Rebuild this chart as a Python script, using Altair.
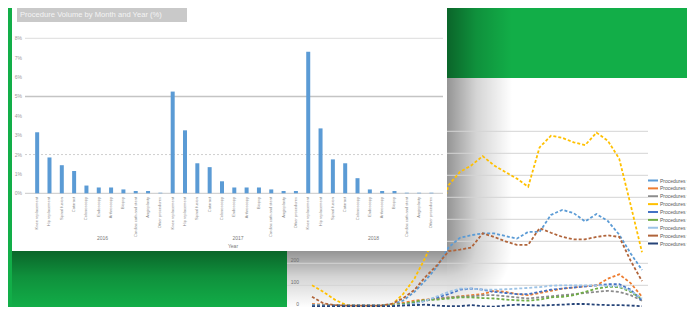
import altair as alt
import pandas as pd

# ---------------- data ----------------
TITLE = "Procedure Volume by Month and Year (%)"
BAR_GROUPS = ["2016", "2017", "2018"]
BAR_AXIS_TITLE = "Year"
BAR_CATEGORIES = ["Knee replacement", "Hip replacement", "Spinal fusion", "Cataract",
                  "Colonoscopy", "Endoscopy", "Arthroscopy", "Biopsy",
                  "Cardiac cath and stent", "Angioplasty", "Other procedures"]
BAR_VALUES = [3.15, 1.85, 1.45, 1.15, 0.40, 0.30, 0.30, 0.20, 0.12, 0.12, 0.03,
              5.25, 3.25, 1.55, 1.35, 0.62, 0.30, 0.30, 0.30, 0.20, 0.12, 0.12,
              7.30, 3.35, 1.75, 1.55, 0.78, 0.20, 0.12, 0.12, 0.03, 0.03, 0.03]
BAR_TICKS = [0, 1, 2, 3, 4, 5, 6, 7, 8]
BAR_TICK_LABELS = ["0%", "1%", "2%", "3%", "4%", "5%", "6%", "7%", "8%"]

LINE_SERIES = ["Procedures via Inpatient", "Procedures via Outpatient", "Procedures via Clinic",
               "Procedures via Day Surgery", "Procedures via Emergency", "Procedures via Referral",
               "Procedures via Transfer", "Procedures via Other Sites", "Procedures via Unknown"]
LINE_COLORS = ["#5B9BD5", "#ED7D31", "#8C8C8C", "#FFC000", "#4472C4", "#70AD47",
               "#9DC3E6", "#B0643A", "#264478"]
blue = [10, 10, 10, 10, 10, 10, 10, 12, 30, 70, 124, 185, 272, 316, 328, 336, 336, 324, 312, 343,
        343, 420, 443, 428, 390, 424, 392, 330, 245, 170]
orange = [15, 12, 10, 8, 8, 8, 8, 10, 20, 30, 35, 40, 45, 50, 55, 60, 75, 70, 60, 55,
          65, 75, 85, 90, 95, 100, 130, 150, 110, 48]
gray = [12, 10, 10, 10, 10, 10, 10, 12, 15, 20, 30, 40, 45, 48, 50, 55, 55, 50, 45, 40,
        45, 50, 55, 60, 65, 70, 75, 70, 55, 30]
yellow = [100, 70, 35, 10, 5, 5, 5, 10, 60, 130, 230, 360, 555, 615, 645, 687, 645, 615, 585, 548,
          727, 780, 770, 750, 737, 794, 757, 675, 466, 250]
darkblue = [10, 8, 8, 8, 8, 8, 8, 8, 10, 20, 30, 45, 60, 80, 85, 80, 70, 65, 60, 60,
            70, 80, 85, 90, 95, 100, 105, 105, 80, 30]
green = [8, 8, 8, 8, 8, 8, 8, 10, 15, 25, 33, 35, 40, 45, 45, 42, 40, 35, 32, 30,
         35, 45, 48, 55, 70, 85, 93, 92, 70, 38]
lightblue = [8, 8, 8, 8, 8, 8, 8, 8, 10, 15, 30, 50, 70, 85, 85, 80, 80, 82, 85, 88,
             92, 98, 100, 100, 100, 100, 97, 95, 75, 40]
brown = [48, 18, 10, 8, 8, 8, 8, 15, 41, 79, 140, 192, 255, 262, 272, 336, 320, 300, 284, 284,
         360, 339, 320, 309, 309, 320, 327, 320, 212, 119]
navy = [5, 5, 5, 5, 5, 5, 5, 5, 8, 10, 12, 8, 5, 5, 10, 5, 3, 8, 12, 10,
        8, 10, 12, 15, 15, 12, 10, 10, 8, 5]
LINE_TICKS = [0, 100, 200, 300, 400, 500, 600, 700, 800, 900, 1000]
LINE_GRID = [100, 200, 300, 400, 500, 600, 700, 800]

# ---------------- tables ----------------
series_vals = [blue, orange, gray, yellow, darkblue, green, lightblue, brown, navy]
line_df = pd.DataFrame([
    {"series": s, "i": i, "v": v}
    for s, vals in zip(LINE_SERIES, series_vals) for i, v in enumerate(vals)
])
legend_df = pd.DataFrame({"series": LINE_SERIES})
n_cat = len(BAR_CATEGORIES)
bar_df = pd.DataFrame([
    {"idx": g * n_cat + c, "value": BAR_VALUES[g * n_cat + c], "label": BAR_CATEGORIES[c]}
    for g in range(len(BAR_GROUPS)) for c in range(n_cat)
])
group_df = pd.DataFrame({"idx": [g * n_cat + 5.3 for g in range(len(BAR_GROUPS))],
                         "label": BAR_GROUPS})
bar_tick_df = pd.DataFrame({"v": BAR_TICKS, "t": BAR_TICK_LABELS})
line_tick_df = pd.DataFrame({"v": LINE_TICKS, "t": [str(t) for t in LINE_TICKS]})
line_grid_df = pd.DataFrame({"v": LINE_GRID})
ONE = alt.Data(values=[{"k": 0}])

FONT = "Liberation Sans"

# ---------------- scales ----------------
bx = alt.Scale(domain=[-0.5, 32.5], range=[18, 434.6], nice=False, zero=False)
by = alt.Scale(domain=[0, 8], range=[185.3, 30.3], nice=False)
lx = alt.Scale(domain=[0, 29], range=[304, 634], nice=False, zero=False)
ly = alt.Scale(domain=[0, 1000], range=[299.3, 79.3], nice=False)
legy = alt.Scale(type="point", domain=LINE_SERIES, range=[172.5, 235.5], padding=0)
color_scale = alt.Scale(domain=LINE_SERIES, range=LINE_COLORS)


def box(x, x2, y, y2, color, **kw):
    return alt.Chart(ONE).mark_rect(color=color, **kw).encode(
        x=alt.value(x), x2=alt.value(x2), y=alt.value(y), y2=alt.value(y2))


def grad(direction, a0, a1):
    stops = [alt.GradientStop(color=f"rgba(0,0,0,{a0})", offset=0),
             alt.GradientStop(color=f"rgba(0,0,0,{(a0 + a1) / 2 * 0.8})", offset=0.45),
             alt.GradientStop(color=f"rgba(0,0,0,{a1})", offset=1)]
    if direction == "h":
        return alt.LinearGradient(gradient="linear", stops=stops, x1=0, x2=1, y1=0, y2=0)
    return alt.LinearGradient(gradient="linear", stops=stops, x1=0, x2=0, y1=0, y2=1)


radial = alt.RadialGradient(
    gradient="radial",
    stops=[alt.GradientStop(color="rgba(0,0,0,0.42)", offset=0),
           alt.GradientStop(color="rgba(0,0,0,0.17)", offset=0.45),
           alt.GradientStop(color="rgba(0,0,0,0)", offset=1)],
    x1=0, y1=0, r1=0, x2=0, y2=0, r2=1)

# ---------------- line chart (background panel) ----------------
line_panel = box(279, 700, 70, 310, "#ffffff")
shadow_right = box(439, 504, -2, 243, grad("h", 0.42, 0.0))
shadow_bottom = box(4, 439, 243, 300, grad("v", 0.42, 0.0))
shadow_corner = box(439, 504, 243, 300, radial)

line_grid = alt.Chart(line_grid_df).mark_rule(color="#d4d4d4", strokeWidth=1).encode(
    y=alt.Y("v:Q", scale=ly, axis=None), x=alt.value(279), x2=alt.value(640))
line_ylabels = alt.Chart(line_tick_df).mark_text(
    fontSize=5, color="#6f6f6f", align="right", baseline="bottom", dy=-0.5, font=FONT).encode(
    y=alt.Y("v:Q", scale=ly, axis=None), x=alt.value(291), text="t:N")
lines = alt.Chart(line_df).mark_line(strokeDash=[3, 2], strokeWidth=1.8).encode(
    x=alt.X("i:Q", scale=lx, axis=None),
    y=alt.Y("v:Q", scale=ly, axis=None),
    color=alt.Color("series:N", scale=color_scale, sort=LINE_SERIES, legend=None),
)
line_layer = alt.layer(line_panel, shadow_right, shadow_bottom, shadow_corner,
                       line_grid, line_ylabels, lines)

# legend drawn from the series list
leg_sym = alt.Chart(legend_df).mark_rule(strokeWidth=2).encode(
    y=alt.Y("series:N", scale=legy, axis=None),
    x=alt.value(640), x2=alt.value(650),
    color=alt.Color("series:N", scale=color_scale, legend=None))
leg_txt = alt.Chart(legend_df).mark_text(
    fontSize=5, color="#595959", align="left", baseline="middle", font=FONT).encode(
    y=alt.Y("series:N", scale=legy, axis=None), x=alt.value(652), text="series:N")
legend_layer = alt.layer(leg_sym, leg_txt)

# ---------------- bar chart (front panel) ----------------
bar_panel = box(4, 439, -4, 243, "#ffffff")
title_box = box(9, 179, -1, 14, "#c9c9c9")
title_text = alt.Chart(ONE).mark_text(
    text=TITLE, fontSize=7.6, color="#f4f4f4", align="left", baseline="middle", font=FONT).encode(
    x=alt.value(12), y=alt.value(6.5))
grid8 = alt.Chart(pd.DataFrame({"v": [8]})).mark_rule(color="#dcdcdc", strokeWidth=1).encode(
    y=alt.Y("v:Q", scale=by, axis=None), x=alt.value(17), x2=alt.value(435))
grid5 = alt.Chart(pd.DataFrame({"v": [5]})).mark_rule(color="#c4c4c4", strokeWidth=1.5).encode(
    y=alt.Y("v:Q", scale=by, axis=None), x=alt.value(17), x2=alt.value(435))
grid2 = alt.Chart(pd.DataFrame({"v": [2]})).mark_rule(color="#cfcfcf", strokeWidth=1,
                                                     strokeDash=[2, 2]).encode(
    y=alt.Y("v:Q", scale=by, axis=None), x=alt.value(17), x2=alt.value(435))
base = alt.Chart(pd.DataFrame({"v": [0]})).mark_rule(color="#c8c8c8", strokeWidth=1).encode(
    y=alt.Y("v:Q", scale=by, axis=None), x=alt.value(17), x2=alt.value(435))
bar_ylabels = alt.Chart(bar_tick_df).mark_text(
    fontSize=5, color="#9a9a9a", align="right", baseline="middle", font=FONT).encode(
    y=alt.Y("v:Q", scale=by, axis=None), x=alt.value(14), text="t:N")
bars = alt.Chart(bar_df).mark_bar(width=4, color="#5B9BD5").encode(
    x=alt.X("idx:Q", scale=bx, axis=None),
    y=alt.Y("value:Q", scale=by, axis=None))
cat_labels = alt.Chart(bar_df).mark_text(
    angle=270, align="right", baseline="middle", fontSize=4, color="#8a8a8a", font=FONT).encode(
    x=alt.X("idx:Q", scale=bx, axis=None), y=alt.value(189), text="label:N")
group_labels = alt.Chart(group_df).mark_text(
    fontSize=5, color="#7a7a7a", baseline="middle", font=FONT).encode(
    x=alt.X("idx:Q", scale=bx, axis=None), y=alt.value(230), text="label:N")
axis_title = alt.Chart(ONE).mark_text(
    text=BAR_AXIS_TITLE, fontSize=5, color="#7a7a7a", baseline="middle", font=FONT).encode(
    x=alt.value(225), y=alt.value(238))

bar_layer = alt.layer(bar_panel, title_box, title_text, grid8, grid5, grid2, base,
                      bar_ylabels, bars, cat_labels, group_labels, axis_title)

chart = alt.layer(line_layer, legend_layer, bar_layer).resolve_scale(
    x="independent", y="independent"
).properties(
    width=679, height=299, padding=0,
    autosize=alt.AutoSizeParams(type="none"),
    background="#12AE48",
).configure_view(stroke=None)

chart.save("out.html", embed_options={"renderer": "svg", "actions": False})
